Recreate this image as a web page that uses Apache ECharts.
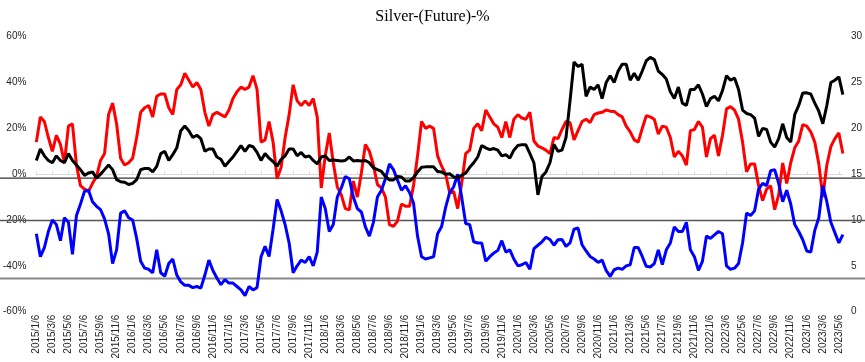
<!DOCTYPE html>
<html>
<head>
<meta charset="utf-8">
<script src="https://cdn.jsdelivr.net/npm/echarts@6/dist/echarts.min.js"></script>
<style>html,body{margin:0;padding:0;background:#fff;}#c{width:865px;height:362px;}</style>
</head>
<body>
<div id="c"></div>
<script>
var tickLabels = ["2015/1/6","2015/3/6","2015/5/6","2015/7/6","2015/9/6","2015/11/6",
"2016/1/6","2016/3/6","2016/5/6","2016/7/6","2016/9/6","2016/11/6",
"2017/1/6","2017/3/6","2017/5/6","2017/7/6","2017/9/6","2017/11/6",
"2018/1/6","2018/3/6","2018/5/6","2018/7/6","2018/9/6","2018/11/6",
"2019/1/6","2019/3/6","2019/5/6","2019/7/6","2019/9/6","2019/11/6",
"2020/1/6","2020/3/6","2020/5/6","2020/7/6","2020/9/6","2020/11/6",
"2021/1/6","2021/3/6","2021/5/6","2021/7/6","2021/9/6","2021/11/6",
"2022/1/6","2022/3/6","2022/5/6","2022/7/6","2022/9/6","2022/11/6",
"2023/1/6","2023/3/6","2023/5/6"];

var redSeries = [14,25,23,16,10,17,13,5,21,22,4,-5,-6.5,-7.5,-4,-1,6,9,26,31,
22,7,4,5,7,16,27,29,30,25,34,35,35,29,26,37,39,44,41,38,
40,37,27,21,26,27,26,25,28,33,36,38,37,38,43,37,14,15,23,14,
-2,3,16,26,39,32,30,32,30,33,25,-6,8,18,5,-5.5,-9,-15,-15.5,-3,
-10,0.5,13,10,4,-4.5,-6,-10,-22,-22.8,-20.5,-13,-14,-14,-5,8,23,20,21,20,
8,3.5,0,-8,-7.5,-15,-4,9,10.5,20,22,19,28,25,22,20.5,16,23,16,24,
26,24.5,24,27,14.5,12.3,11.5,10.5,9,16,15.5,19.5,23,22.5,15,19,23,24,22.5,26,
26.7,27,28,27.5,27.4,26,25,21,18.5,15,14,20,25.5,25,24,17.5,21,20.5,16,7.5,
10,8,4,19,19.5,23,20.5,7.5,15.5,17,8,17,28.5,29.5,28,24,14,1,4.5,4.5,
-5,-11.5,-6.5,-5,-15.5,-9,4.9,-4,5,11.5,14.5,21.6,21,18.5,14,4.5,-10,4,12,15.5,
18,9];

var blackSeries = [6,11,8,6,5,8,6,5,9,6,4,2,-0.5,0.5,1,-1.7,0,2,4,2,
-2.4,-3.3,-3.5,-4.5,-4,-2.4,2,2.5,2.5,1,3.4,9,10,6,8.5,11.5,19,21,19,16,
17,15.5,10,11,11,7.5,6.5,3.5,5.5,7.5,10,12.5,10,12.5,12,9.5,6,9,7,5.5,
3.5,6.5,8,11,11,8,9.5,7.5,8,6,4.5,7.5,8,6,6.2,6,5.8,6,7.5,5.8,
6,5.8,6,5,2.8,2,1.2,-1,-2.5,-2.5,-1,-1.2,-3,-3,-1.5,1,3,3.2,3.2,3.2,
1.2,1,0,0.2,-1.2,-1.5,-0.5,0.5,3,5,7.5,12.5,11.5,10.7,11.2,10.5,8,8.5,7,10.5,
12.5,12.9,12.8,9,5,-9,-1,1,5,13,10,10.5,16,32,49,47,48,34,38,37,
39,33,40,43,40,45,48,48,41,44,41,45,49.5,51,50,45,43.5,41.5,36,33,
38,31,30,37,37,39,35,29.5,33,34,32,36.5,43,41,42,37,28,26.5,26,24.5,
16.5,20,19.5,14,11.8,15.5,22,16,14,26,30,35.4,35.5,35,31,27.5,22,30,40,41,
42.5,34.7];

var blueSeries = [-26,-36,-32,-25,-20,-22,-29,-19,-21,-35,-18,-13,-7.5,-7,-12,-14,-15.5,-19.5,-26,-39,
-33,-17,-16,-19,-20,-28,-38,-41,-41.5,-43,-33,-43,-44.5,-39,-37,-44,-47,-48.5,-48.5,-49.5,
-49,-49.7,-44,-37.5,-42,-45.3,-48.2,-46,-47.5,-47.5,-49,-50.5,-53,-49,-50.5,-49.5,-36,-31.5,-35.9,-24,
-11,-16,-22,-30,-43,-40,-37.5,-38.5,-36,-40,-34,-10,-15,-25,-22,-10,-6,-1,-2,-10,
-15,-16.5,-23,-27,-21,-10,-7,-2,4.5,2,-2.5,-7,-5,-8,-12.6,-27,-36,-37,-36.5,-36,
-26,-22.8,-14.5,-8,-5.5,0,-10,-21.5,-22,-29.5,-30,-30,-38,-36,-34.4,-33.3,-29,-34,-33,-37,
-40,-39.5,-38.5,-41.5,-32.5,-31,-29.5,-27.5,-28.5,-31,-28.6,-28.5,-31.5,-30,-24,-23.5,-30.8,-33.5,-35.9,-37,
-38.5,-37.5,-42,-44.6,-41.7,-41,-41.5,-40,-39.5,-32,-32,-35.9,-40.2,-40.5,-39,-33,-39.5,-33,-30,-23,
-25,-25,-21,-33,-36,-42,-38,-27,-28,-26.5,-25,-26,-40,-41.5,-41,-39,-30,-17,-18,-16,
-6.5,-4,-5,1.5,2,-4,-12,-7,-13,-22,-25,-28.6,-33.5,-34,-24.5,-19,-5,-12,-21,-25.5,
-30,-26.4];

var refLines = [-1.7, -20.2, -45.5];

// categories: half-month steps built from the tick labels
var categories = [];
tickLabels.forEach(function (t) {
  var p = t.split('/'); var y = +p[0], m = +p[1];
  var m2 = m + 1;
  categories.push(y + '/' + m + '/6', y + '/' + m + '/21', y + '/' + m2 + '/6', y + '/' + m2 + '/21');
});
categories = categories.slice(0, redSeries.length);

var chart = echarts.init(document.getElementById('c'));
var lblFont = {fontFamily: 'Liberation Sans', fontSize: 10, color: '#262626'};
chart.setOption({
  animation: false,
  backgroundColor: '#fff',
  title: {text: 'Silver-(Future)-%', left: 'center', top: 4,
    textStyle: {fontFamily: 'Liberation Serif', fontSize: 16, fontWeight: 'normal', color: '#000'}},
  grid: {left: 34, right: 22, top: 36.7, bottom: 50.3, containLabel: false},
  xAxis: [{
    type: 'category', data: categories, boundaryGap: false,
    axisLine: {onZero: true, lineStyle: {color: '#d9d9d9', width: 1}},
    axisTick: {show: true, inside: true, length: 3, interval: 3, lineStyle: {color: '#d9d9d9'}},
    axisLabel: {show: false}, splitLine: {show: false}
  }, {
    type: 'category', data: categories, boundaryGap: false, position: 'bottom',
    axisLine: {show: false, onZero: false}, axisTick: {show: false},
    axisLabel: Object.assign({rotate: 90, interval: 3, margin: 3}, lblFont),
    splitLine: {show: false}
  }],
  yAxis: [{
    type: 'value', min: -60, max: 60, interval: 20,
    axisLine: {show: false}, axisTick: {show: false}, splitLine: {show: false},
    axisLabel: Object.assign({formatter: '{value}%', margin: 10}, lblFont)
  }, {
    type: 'value', min: 0, max: 30, interval: 5, position: 'right',
    axisLine: {show: false}, axisTick: {show: false}, splitLine: {show: false},
    axisLabel: Object.assign({margin: 8}, lblFont)
  }],
  series: [
    {name: 'red', type: 'line', data: redSeries, showSymbol: false, lineStyle: {color: '#ff0000', width: 3}, itemStyle: {color: '#ff0000'}, z: 3},
    {name: 'blue', type: 'line', data: blueSeries, showSymbol: false, lineStyle: {color: '#0000ff', width: 3}, itemStyle: {color: '#0000ff'}, z: 4},
    {name: 'black', type: 'line', data: blackSeries, showSymbol: false, lineStyle: {color: '#000000', width: 3}, itemStyle: {color: '#000'}, z: 5}
  ]
});

var lineColors = ['#333333', '#555555', '#888888'];
var lineWidths = [1.2, 1.4, 2];
var W = chart.getWidth();
chart.setOption({
  graphic: refLines.map(function (v, k) {
    var y = chart.convertToPixel({yAxisIndex: 0}, v);
    return {type: 'line', z: 1, silent: true,
      shape: {x1: 0, y1: y, x2: W, y2: y},
      style: {stroke: lineColors[k], lineWidth: lineWidths[k]}};
  })
});
</script>
</body>
</html>
